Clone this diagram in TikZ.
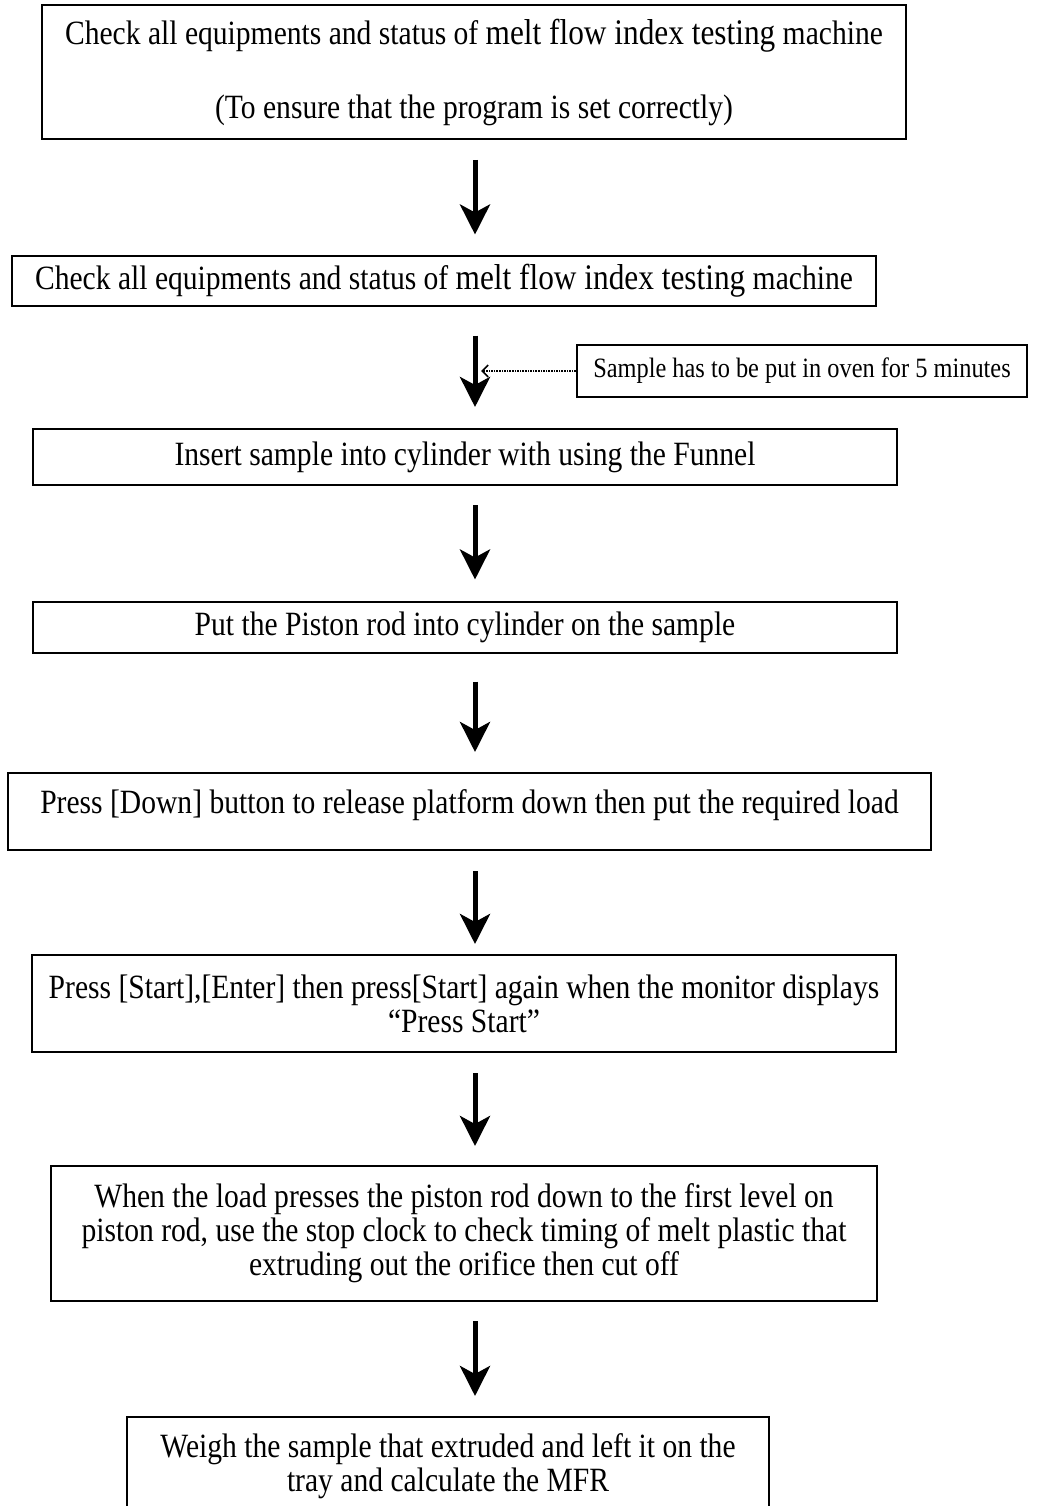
\documentclass[tikz,border=0pt]{standalone}
\usepackage{fontspec}
\setmainfont[FakeStretch=0.87]{Liberation Serif}
\usetikzlibrary{arrows.meta,calc}
\newcommand{\bigpart}[1]{{\fontsize{36}{34}\selectfont #1}}
\begin{document}
\begin{tikzpicture}[x=1pt,y=-1pt,
  box/.style={draw=black,line width=2pt,rectangle,align=center,inner sep=0pt,
    font=\fontsize{34}{34}\selectfont},
  sidebox/.style={draw=black,line width=2pt,rectangle,align=center,inner sep=0pt,
    font=\fontsize{28}{28}\selectfont},
  flow/.style={line width=5pt,-{Stealth[length=30pt,width=30pt,inset=8pt]}},
  note/.style={line width=1.6pt,densely dotted,-{Straight Barb[length=6pt,width=12pt,line width=1.6pt]}}]
\useasboundingbox (0,0) rectangle (1053,1506);
\coordinate (ax) at (475,0);
% boxes: center = ((l+r)/2,(t+b)/2)
\node[box,minimum width=864,minimum height=134] (b1) at (474,72)
  {Check all equipments and status of \bigpart{melt flow index testing} machine\\[40pt]
   (To ensure that the program is set correctly)};
\node[box,minimum width=864,minimum height=49] (b2) at (444,281)
  {Check all equipments and status of \bigpart{melt flow index testing} machine};
\node[sidebox,minimum width=450,minimum height=52] (s1) at (802,371)
  {Sample has to be put in oven for 5 minutes};
\node[box,minimum width=864,minimum height=56] (b3) at (465,457)
  {Insert sample into cylinder with using the Funnel};
\node[box,minimum width=864,minimum height=51] (b4) at (465,627)
  {Put the Piston rod into cylinder on the sample};
\node[box,minimum width=923,minimum height=77,text depth=20pt] (b5) at (469.5,811.5)
  {Press [Down] button to release platform down then put the required load};
\node[box,minimum width=864,minimum height=97] (b6) at (464,1003.5)
  {Press [Start],[Enter] then press[Start] again when the monitor displays\\
   “Press Start”};
\node[box,minimum width=826,minimum height=135] (b7) at (464,1233.5)
  {When the load presses the piston rod down to the first level on\\
   piston rod, use the stop clock to check timing of melt plastic that\\
   extruding out the orifice then cut off};
\node[box,minimum width=642,minimum height=98] (b8) at (448,1466)
  {Weigh the sample that extruded and left it on the\\
   tray and calculate the MFR};
% arrows
\draw[flow] ([yshift=-20pt]b1.south -| ax) -- ([yshift=21pt]b2.north -| ax);
\draw[flow] ([yshift=-29pt]b2.south -| ax) -- ([yshift=21pt]b3.north -| ax);
\draw[flow] ([yshift=-19pt]b3.south -| ax) -- ([yshift=21pt]b4.north -| ax);
\draw[flow] ([yshift=-28pt]b4.south -| ax) -- ([yshift=20pt]b5.north -| ax);
\draw[flow] ([yshift=-20pt]b5.south -| ax) -- ([yshift=10pt]b6.north -| ax);
\draw[flow] ([yshift=-20pt]b6.south -| ax) -- ([yshift=19pt]b7.north -| ax);
\draw[flow] ([yshift=-19pt]b7.south -| ax) -- ([yshift=20pt]b8.north -| ax);
% side note
\draw[note] (s1.west) -- ([xshift=6pt]s1.west -| ax);
\end{tikzpicture}
\end{document}
